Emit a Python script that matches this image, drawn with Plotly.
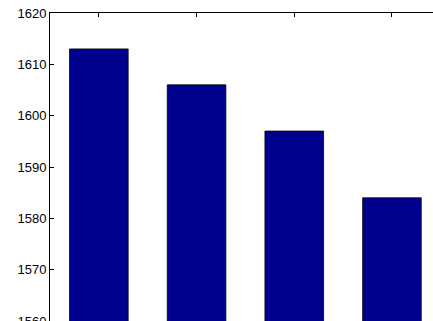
import plotly.graph_objects as go

# Bar data
categories = [1, 2, 3, 4]
values = [1613, 1606, 1597, 1584]
y_ticks = [1560, 1570, 1580, 1590, 1600, 1610, 1620]

fig = go.Figure(
    go.Bar(
        x=categories,
        y=values,
        width=0.6,
        base=0,
        marker=dict(color="#00008F", line=dict(color="#000000", width=0.8)),
    )
)

fig.update_layout(
    width=433,
    height=321,
    margin=dict(l=50, r=0, t=13, b=0, autoexpand=False),
    paper_bgcolor="white",
    plot_bgcolor="white",
    showlegend=False,
    font=dict(family="Liberation Sans, Arial, sans-serif", size=13, color="black"),
)

# Category axis: line and inward ticks along the top edge only
fig.update_xaxes(
    side="top",
    range=[0.5, 0.5 + 383 / 97.7],
    tickvals=categories,
    showticklabels=False,
    ticks="inside",
    ticklen=4,
    tickcolor="black",
    showline=True,
    linecolor="black",
    linewidth=1,
    mirror=False,
    showgrid=False,
    zeroline=False,
    automargin=False,
)

fig.update_yaxes(
    range=[1560, 1620],
    tickvals=y_ticks,
    ticks="inside",
    ticklen=4,
    tickcolor="black",
    ticklabeloverflow="allow",
    showline=True,
    linecolor="black",
    linewidth=1,
    mirror=False,
    showgrid=False,
    zeroline=False,
    automargin=False,
)

fig.write_html("out.html")
